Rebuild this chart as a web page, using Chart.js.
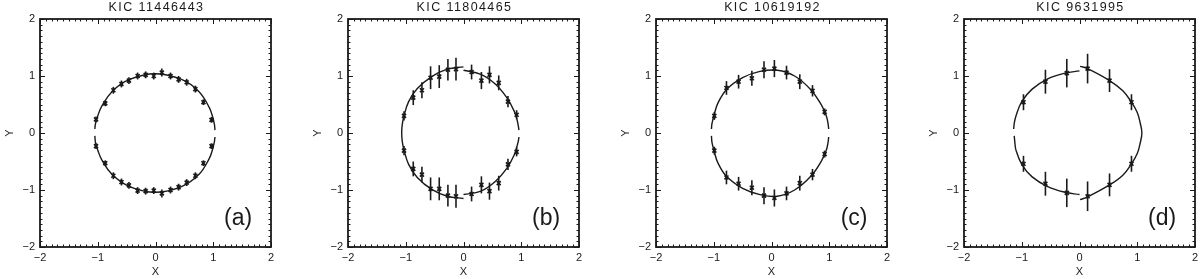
<!DOCTYPE html>
<html>
<head>
<meta charset="utf-8">
<script src="https://cdn.jsdelivr.net/npm/chart.js@4.4.1/dist/chart.umd.min.js"></script>
<style>
  html, body { margin: 0; padding: 0; background: #fff; }
  #wrap { position: relative; width: 1200px; height: 279px; }
  .panel { position: absolute; top: 0; width: 308px; height: 279px; }
</style>
</head>
<body>
<div id="wrap">
  <div class="panel" style="left:0px"><canvas id="pa"></canvas></div>
  <div class="panel" style="left:308px"><canvas id="pb"></canvas></div>
  <div class="panel" style="left:616px"><canvas id="pc"></canvas></div>
  <div class="panel" style="left:924px"><canvas id="pd"></canvas></div>
</div>
<script>
// ── Axis ticks ────────────────────────────────────────────────
const tickValues = [-2, -1, 0, 1, 2];
const tickLabels = ['−2', '−1', '0', '1', '2'];

// ── Panel titles / letters ────────────────────────────────────
const titles  = ['KIC 11446443', 'KIC 11804465', 'KIC 10619192', 'KIC 9631995'];
const letters = ['(a)', '(b)', '(c)', '(d)'];

// ── (a) KIC 11446443 ──────────────────────────────────────────
const aX   = [-1.03, -0.87, -0.73, -0.59, -0.46, -0.31, -0.17, -0.03, 0.11, 0.26, 0.40, 0.54, 0.69, 0.83, 0.97];
const aYUp = [0.24, 0.52, 0.75, 0.86, 0.92, 1.00, 1.02, 1.00, 1.06, 1.00, 0.94, 0.89, 0.77, 0.54, 0.23];
const aYLo = [-0.23, -0.53, -0.75, -0.86, -0.92, -1.01, -1.02, -1.01, -1.06, -1.00, -0.95, -0.87, -0.75, -0.53, -0.23];
const aErr = [0.05, 0.05, 0.06, 0.06, 0.06, 0.06, 0.06, 0.06, 0.07, 0.06, 0.06, 0.06, 0.06, 0.05, 0.05];
const aFitUpX = [-1.05, -1.04, -1.00, -0.93, -0.75, -0.45, 0, 0.45, 0.75, 0.93, 0.99, 1.02, 1.03];
const aFitUpY = [0.07, 0.16, 0.30, 0.47, 0.73, 0.94, 1.04, 0.94, 0.73, 0.45, 0.28, 0.15, 0.05];
const aFitLoX = [-1.05, -1.04, -1.00, -0.93, -0.75, -0.45, 0, 0.45, 0.75, 0.93, 0.99, 1.02, 1.03];
const aFitLoY = [-0.05, -0.16, -0.30, -0.47, -0.73, -0.94, -1.04, -0.94, -0.73, -0.45, -0.28, -0.15, -0.07];

// ── (b) KIC 11804465 ──────────────────────────────────────────
const bX   = [-1.03, -0.87, -0.72, -0.57, -0.42, -0.27, -0.13, 0.14, 0.31, 0.45, 0.61, 0.77, 0.92];
const bYUp = [0.30, 0.62, 0.75, 0.97, 0.99, 1.11, 1.12, 1.07, 0.92, 1.02, 0.88, 0.55, 0.32];
const bYLo = [-0.31, -0.63, -0.73, -0.98, -0.98, -1.10, -1.11, -1.07, -0.91, -1.02, -0.88, -0.55, -0.33];
const bErr = [0.08, 0.13, 0.14, 0.20, 0.20, 0.19, 0.20, 0.13, 0.15, 0.15, 0.13, 0.10, 0.08];
const bFitLeftX = [0, -0.28, -0.55, -0.80, -0.95, -1.03, -1.06, -1.07, -1.06, -1.03, -0.95, -0.80, -0.55, -0.28, 0];
const bFitLeftY = [1.16, 1.12, 0.99, 0.78, 0.55, 0.30, 0.15, 0, -0.15, -0.30, -0.55, -0.78, -0.99, -1.11, -1.15];
const bFitURX = [0, 0.30, 0.55, 0.75, 0.88, 0.93, 0.95, 0.96];
const bFitURY = [1.10, 1.03, 0.86, 0.62, 0.38, 0.22, 0.12, 0.05];
const bFitLRX = [0, 0.30, 0.55, 0.75, 0.88, 0.93, 0.95, 0.96];
const bFitLRY = [-1.08, -1.02, -0.85, -0.62, -0.38, -0.22, -0.14, -0.07];

// ── (c) KIC 10619192 ──────────────────────────────────────────
const cX   = [-0.99, -0.78, -0.57, -0.34, -0.13, 0.05, 0.26, 0.49, 0.71, 0.92];
const cYUp = [0.30, 0.79, 0.90, 0.96, 1.11, 1.13, 1.06, 0.90, 0.74, 0.37];
const cYLo = [-0.31, -0.78, -0.89, -0.96, -1.10, -1.14, -1.06, -0.88, -0.73, -0.37];
const cErr = [0.07, 0.12, 0.12, 0.13, 0.15, 0.15, 0.12, 0.13, 0.10, 0.06];
const cFitUpX = [-1.04, -1.03, -0.99, -0.93, -0.78, -0.50, -0.20, 0.10, 0.40, 0.68, 0.87, 0.95, 0.98, 0.99];
const cFitUpY = [0.07, 0.17, 0.33, 0.52, 0.76, 0.97, 1.08, 1.10, 1.00, 0.76, 0.48, 0.30, 0.16, 0.07];
const cFitLoX = [-1.04, -1.03, -0.99, -0.93, -0.78, -0.50, -0.20, 0.10, 0.40, 0.68, 0.87, 0.95, 0.98, 0.99];
const cFitLoY = [-0.05, -0.17, -0.33, -0.52, -0.76, -0.97, -1.08, -1.11, -1.00, -0.76, -0.48, -0.30, -0.16, -0.07];

// ── (d) KIC 9631995 ───────────────────────────────────────────
const dX   = [-0.97, -0.59, -0.22, 0.14, 0.52, 0.90];
const dYUp = [0.54, 0.90, 1.05, 1.13, 0.92, 0.54];
const dYLo = [-0.54, -0.89, -1.05, -1.11, -0.91, -0.54];
const dErr = [0.14, 0.21, 0.25, 0.26, 0.20, 0.14];
const dFitULX = [-1.14, -1.13, -1.10, -1.00, -0.82, -0.55, -0.25, 0];
const dFitULY = [0.07, 0.17, 0.30, 0.55, 0.77, 0.95, 1.05, 1.09];
const dFitLLX = [-1.13, -1.12, -1.10, -1.00, -0.82, -0.55, -0.25, 0];
const dFitLLY = [-0.05, -0.16, -0.30, -0.55, -0.77, -0.94, -1.04, -1.08];
const dFitRightX = [0.01, 0.14, 0.52, 0.75, 0.90, 1.00, 1.05, 1.08, 1.05, 1.00, 0.90, 0.75, 0.52, 0.14, 0.01];
const dFitRightY = [1.17, 1.13, 0.92, 0.74, 0.54, 0.36, 0.18, 0, -0.18, -0.36, -0.54, -0.74, -0.91, -1.12, -1.17];

const FONT = "'Liberation Sans', Arial, sans-serif";
const INK  = '#1a1a1a';

const pair = (xs, ys) => xs.map((x, i) => ({ x, y: ys[i] }));

// ── Frame, inward ticks, title and panel letter ───────────────
const framePlugin = {
  id: 'frame',
  afterDraw(chart, args, opts) {
    const { ctx, chartArea: a, scales: { x, y } } = chart;
    ctx.save();
    ctx.strokeStyle = INK;
    ctx.lineWidth = 1.8;
    ctx.strokeRect(a.left, a.top, a.right - a.left, a.bottom - a.top);
    ctx.lineWidth = 1;
    ctx.beginPath();
    for (let i = -20; i <= 20; i++) {
      const len = i % 10 === 0 ? 5 : 2.5;
      const px = Math.round(x.getPixelForValue(i / 10)) + 0.5;
      const py = Math.round(y.getPixelForValue(i / 10)) + 0.5;
      ctx.moveTo(px, a.bottom); ctx.lineTo(px, a.bottom - len);
      ctx.moveTo(px, a.top);    ctx.lineTo(px, a.top + len);
      ctx.moveTo(a.left, py);   ctx.lineTo(a.left + len, py);
      ctx.moveTo(a.right, py);  ctx.lineTo(a.right - len, py);
    }
    ctx.stroke();

    ctx.fillStyle = INK;
    ctx.textAlign = 'center';
    ctx.textBaseline = 'middle';
    ctx.font = `12.5px ${FONT}`;
    ctx.letterSpacing = '1.4px';
    ctx.fillText(opts.title, (a.left + a.right) / 2 + 1, 8);
    ctx.letterSpacing = '0px';
    ctx.font = `23px ${FONT}`;
    ctx.fillText(opts.letter, x.getPixelForValue(1.43), y.getPixelForValue(-1.5));
    ctx.restore();
  }
};

// ── Vertical error bars ───────────────────────────────────────
const errorBars = {
  id: 'errorBars',
  beforeDatasetsDraw(chart) {
    const { ctx, scales: { x, y } } = chart;
    chart.data.datasets.forEach(ds => {
      if (!ds.errY) return;
      ctx.save();
      ctx.strokeStyle = INK;
      ctx.lineWidth = 1.6;
      ds.data.forEach((pt, i) => {
        const px = x.getPixelForValue(pt.x);
        ctx.beginPath();
        ctx.moveTo(px, y.getPixelForValue(pt.y - ds.errY[i]));
        ctx.lineTo(px, y.getPixelForValue(pt.y + ds.errY[i]));
        ctx.stroke();
      });
      ctx.restore();
    });
  }
};

function makePanel(id, idx, xs, yUp, yLo, err, fits) {
  const fitSets = fits.map(f => ({
    data: pair(f[0], f[1]),
    showLine: true,
    tension: 0.4,
    pointRadius: 0,
    borderColor: INK,
    borderWidth: 1.4,
    fill: false,
  }));
  const points = {
    data: pair(xs, yUp).concat(pair(xs, yLo)),
    errY: err.concat(err),
    pointStyle: 'crossRot',
    pointRadius: 2.8,
    borderWidth: 1.7,
    borderColor: INK,
    backgroundColor: INK,
  };
  const axis = (pos, title, titlePad) => ({
    type: 'linear',
    min: -2, max: 2,
    grid: { display: false, drawTicks: false },
    border: { display: false },
    ticks: {
      stepSize: 1,
      autoSkip: false,
      maxRotation: 0,
      padding: pos === 'x' ? 4 : 5,
      color: INK,
      font: { family: FONT, size: 11 },
      callback: v => tickLabels[tickValues.indexOf(v)],
    },
    title: { display: true, text: title, color: INK, font: { family: FONT, size: 11 }, padding: titlePad },
    afterFit: s => { if (pos === 'x') s.height = 32; else s.width = 40; },
  });
  new Chart(document.getElementById(id), {
    type: 'scatter',
    data: { datasets: fitSets.concat([points]) },
    options: {
      responsive: true,
      maintainAspectRatio: false,
      animation: false,
      layout: { padding: { top: 19, right: 37, left: 0, bottom: 0 } },
      scales: {
        x: axis('x', 'X', { top: 0, bottom: 0 }),
        y: axis('y', 'Y', { top: 3.5, bottom: 0 }),
      },
      plugins: {
        legend: { display: false },
        tooltip: { enabled: false },
        frame: { title: titles[idx], letter: letters[idx] },
      }
    },
    plugins: [errorBars, framePlugin]
  });
}

makePanel('pa', 0, aX, aYUp, aYLo, aErr, [[aFitUpX, aFitUpY], [aFitLoX, aFitLoY]]);
makePanel('pb', 1, bX, bYUp, bYLo, bErr, [[bFitLeftX, bFitLeftY], [bFitURX, bFitURY], [bFitLRX, bFitLRY]]);
makePanel('pc', 2, cX, cYUp, cYLo, cErr, [[cFitUpX, cFitUpY], [cFitLoX, cFitLoY]]);
makePanel('pd', 3, dX, dYUp, dYLo, dErr, [[dFitULX, dFitULY], [dFitLLX, dFitLLY], [dFitRightX, dFitRightY]]);
</script>
</body>
</html>
